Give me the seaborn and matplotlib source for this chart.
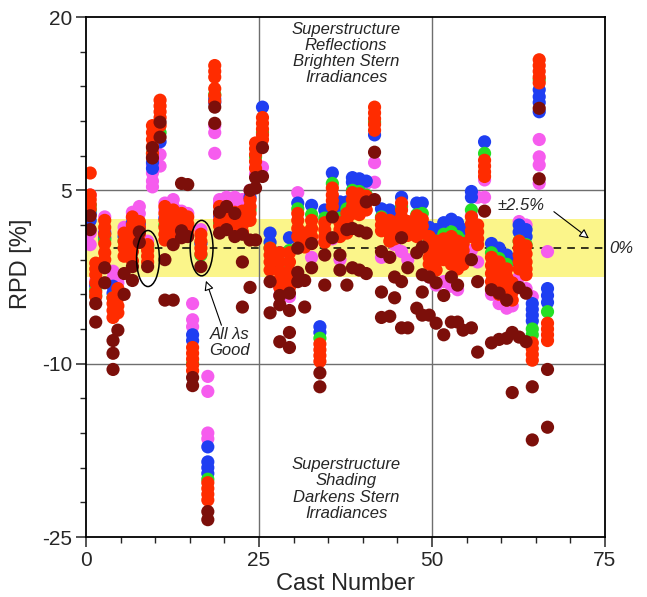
import pandas as pd
import seaborn as sns
import matplotlib.pyplot as plt
from matplotlib.patches import Ellipse
from matplotlib.ticker import MultipleLocator, FixedLocator

# cast positions
cast = [0.6, 1.4, 2.7, 3.9, 4.6, 5.5, 6.7, 7.7, 8.9, 9.6,
        10.7, 11.4, 12.6, 13.8, 14.7, 15.4, 16.6, 17.6, 18.6, 19.3,
        20.3, 21.5, 22.6, 23.7, 24.5, 25.5, 26.6, 28.0, 29.4, 30.6,
        31.6, 32.6, 33.8, 34.5, 35.6, 36.7, 37.7, 38.5, 39.5, 40.5,
        41.7, 42.7, 43.9, 44.6, 45.6, 46.5, 47.8, 48.6, 49.6, 50.6,
        51.7, 52.8, 53.7, 54.5, 55.7, 56.6, 57.6, 58.6, 59.7, 60.8,
        61.6, 62.6, 63.6, 64.5, 65.5, 66.7]

# RPD [%] per cast, one list per wavelength group
violet = [[4.6, 1.3, 0.3], [-2.8, -3.4], [2.7, 1.5], [-2.0, -2.6], [-3.0],
          [1.8, 1.4], [3.1, 2.6], [3.6, 3.0], [0.6], [7.9, 7.2, 6.5, 5.8, 5.3],
          [8.1, 7.1], [3.9, 3.3], [4.2, 3.6], [3.2], [3.0],
          [-4.8, -6.2, -6.8], [1.6], [-11.1, -12.4, -16.0, -16.5], [10.6, 10.0, 8.2], [4.2, 3.9],
          [4.4], [4.4, 4.0], [4.2], [5.0], [7.0, 6.4],
          [7.0], [], [-3.4, -4.1], [-4.2], [4.8],
          [0.5], [-0.8], [], [0.6], [0.8],
          [-1.0], [], [], [], [5.6],
          [7.4, 5.7], [-0.8], [], [0.3], [-0.3],
          [-1.0], [], [], [-2.5], [-3.2],
          [-2.9], [-3.3], [-3.6], [], [2.8, -0.2],
          [4.4, -1.2], [5.9, 4.4], [-4.0], [-4.8], [-5.2],
          [-5.0], [2.3, -2.5], [2.0, -3.5], [-4.2], [9.4, 7.9, 7.2, 5.6],
          [-0.3]]
blue = [[3.0, 2.4], [-3.2], [1.3, 0.9], [-3.3, -3.9], [-3.8],
        [1.0], [2.2], [2.1, 1.7], [0.2], [7.4, 6.9],
        [9.2], [2.6], [3.0], [2.0], [1.9],
        [-7.5, -8.0], [0.4], [-17.2, -18.5, -19.0, -19.5], [12.6, 12.9], [2.8],
        [3.0], [], [2.8], [4.4], [],
        [12.2], [1.3, 0.5], [-0.4], [0.9], [3.9],
        [], [3.7], [-6.8, -7.3], [3.3], [6.5],
        [4.0, 3.0], [4.0], [6.1, 5.7], [6.0, 5.6], [5.8],
        [9.8], [3.4], [3.3], [3.0], [4.4],
        [], [3.9], [3.9], [1.8], [1.6],
        [2.2], [2.5], [2.2], [1.6], [4.9, 4.4],
        [], [9.2], [0.4], [0.0], [-0.6],
        [-1.0], [2.0, 1.4], [1.6, 1.0], [-4.8, -5.3, -5.8, -6.3], [13.7, 13.1, 12.6, 11.8],
        [-3.5, -4.1, -4.7]]
green = [[3.7, 3.3], [-3.6, -4.1], [0.7], [-4.3], [],
         [0.6], [1.6], [1.4], [0.0], [8.2],
         [10.0], [2.0], [2.5], [1.5], [],
         [-10.0], [-0.6], [-20.0], [13.3], [2.2],
         [], [2.2], [], [3.3], [7.9],
         [10.0], [0.0], [-1.5], [-0.2], [3.4],
         [], [2.9], [-7.8], [2.6], [5.6],
         [2.6], [3.4], [5.0], [4.9], [4.6],
         [10.9], [2.7], [], [2.2], [3.6],
         [], [2.9], [3.0], [0.9], [0.6],
         [1.2], [1.4], [1.0], [0.6], [3.3],
         [], [8.2], [-0.4], [-0.9], [-1.4],
         [], [0.6], [0.3], [-7.0, -7.5], [14.6],
         [-5.5]]
red = [[6.5, 4.6, 4.2, 3.8, 3.4], [-1.3, -1.8, -2.3, -3.0, -3.8, -4.2],
       [2.4, 1.8, 1.2, 0.4, -0.4, -1.0], [-4.3, -4.8, -5.4, -6.0], [-3.5, -4.3, -5.0, -5.6],
       [1.3, 0.6, 0.0, -0.7], [2.7, 2.0, 1.3, 0.5, -0.3, -1.1], [2.3, 1.8, 1.2, 0.5],
       [0.3, -0.2, -0.7, -1.2], [10.6, 10.0, 9.4, 8.8, 8.2],
       [12.8, 12.3, 11.8, 11.3, 10.6], [3.6, 3.0, 2.4, 1.8, 1.2, 0.7], [3.3, 2.8, 2.2, 1.6, 1.0],
       [3.0, 2.4, 1.8, 1.2], [2.7, 2.1, 1.5],
       [-8.6, -9.1, -9.6, -10.1, -10.6], [1.2, 0.6, 0.0, -0.5], [-20.3, -20.8, -21.3, -21.8],
       [15.8, 15.3, 14.8, 13.8, 13.2, 12.7], [3.6, 3.0, 2.4, 1.9],
       [3.6, 3.0, 2.4, 1.8], [3.1, 2.5, 1.9, 1.4], [3.2, 2.6, 2.0, 1.4], [4.2, 3.6, 3.0, 2.4],
       [9.1, 8.6, 8.1, 7.5, 6.9],
       [11.3, 10.8, 10.3, 9.8, 9.4], [0.0, -0.6, -1.2, -1.9], [-0.4, -1.2, -2.0, -2.7, -3.4],
       [-0.4, -1.2, -2.0, -2.8, -3.4], [3.0, 2.4, 1.7, 1.0],
       [1.3, 0.7, 0.1], [2.4, 1.7, 1.0, 0.4], [-8.3, -8.8, -9.3, -9.8], [2.2, 1.6, 1.0, 0.5],
       [5.2, 4.6, 4.1, 3.6],
       [2.2, 1.6, 1.0], [3.0, 2.4, 1.8, 1.3], [4.8, 4.2, 3.6, 3.0], [4.7, 4.1, 3.5, 2.9],
       [4.5, 3.9, 3.3],
       [12.2, 11.7, 11.2, 10.7, 10.2], [2.6, 2.0, 1.5], [2.4, 1.8, 1.2, 0.6], [2.0, 1.4, 0.8],
       [3.9, 3.3, 2.7, 2.1, 1.5],
       [2.3, 1.7, 1.1], [2.8, 2.2, 1.6, 1.0], [2.5, 1.9, 1.3], [1.0, 0.4, -0.2, -0.8, -1.4],
       [0.6, 0.0, -0.6, -1.2, -1.9],
       [0.8, 0.2, -0.4, -1.0], [1.0, 0.4, -0.2, -0.8, -1.4], [0.6, 0.0, -0.6, -1.2, -1.8],
       [0.4, -0.2, -0.8, -1.4], [2.7, 2.1, 1.5, 1.0],
       [2.0, 1.4, 0.8, 0.3], [7.6, 7.1, 6.6, 6.2], [-0.8, -1.5, -2.2, -2.9, -3.5],
       [-1.2, -1.9, -2.6, -3.3, -4.0], [-1.8, -2.5, -3.2, -3.9, -4.5],
       [-3.0, -3.8, -4.5], [0.6, 0.0, -0.6, -1.2, -1.8], [0.2, -0.5, -1.2, -1.8, -2.3],
       [-8.2, -8.7, -9.2, -9.7], [16.3, 15.8, 15.3, 14.8, 14.3],
       [-6.5, -7.0, -7.5, -8.0]]
nir = [[2.8, 1.6], [-4.8, -6.4], [-1.7, -3.0], [-8.0, -9.1, -10.5], [-7.1],
       [-2.2, -4.0], [-1.6, -2.8], [1.4, 0.5], [-1.6], [8.7, 7.8],
       [10.9, 9.6], [-1.0, -4.5], [0.3, -4.5], [5.6, 1.5, 0.9], [5.5, 1.0],
       [-11.2, -11.9], [-1.6], [-22.8, -23.5], [12.2, 10.8], [3.1, 1.3],
       [3.6, 1.6], [3.0, 1.0], [1.2, -1.2, -5.1], [5.0, 0.7, -3.4], [6.1, 5.2, 0.7],
       [8.7, 6.2], [-2.9, -5.6], [-4.1, -4.9, -8.1], [-3.9, -5.4, -7.3, -8.6], [0.0, -2.1, -2.9],
       [-2.8, -5.1], [0.4, -1.7], [-10.8, -12.0], [-0.6, -3.2], [2.7, 0.9],
       [-0.6, -1.9], [1.6, -3.2], [1.7, -1.7], [1.5, -1.9], [4.0, 1.3, -2.2],
       [8.3, 4.2], [-0.3, -3.8, -6.0], [-0.8, -5.9], [-2.5, -4.3], [0.9, -2.9, -6.9],
       [-1.7, -6.9], [-0.4, -5.2], [0.1, -2.3, -3.8, -5.8], [-2.5, -5.8], [-3.0, -6.5],
       [-4.1, -7.5], [-2.5, -6.4], [-3.2, -6.4], [-7.1], [-1.0, -6.9],
       [-2.9, -9.0], [3.2], [-3.6, -8.2], [-3.9, -7.9], [-4.5, -7.8],
       [-7.3, -12.5], [-3.4, -7.7], [-3.9, -8.1], [-12.0, -16.6], [12.1, 6.0],
       [-10.5, -15.5]]

y_ticks = [-25, -10, 5, 20]
y_minor = list(range(-25, 21, 3))

groups = ['violet', 'blue', 'green', 'red', 'nir']
colors = {'violet': '#f65cee', 'blue': '#1f3ef2', 'green': '#25df25',
          'red': '#ff2c00', 'nir': '#7c0f0a'}

rows = []
for name, series in zip(groups, [violet, blue, green, red, nir]):
    for c, vals in zip(cast, series):
        for v in vals:
            rows.append({'cast': c, 'rpd': v, 'band': name})
df = pd.DataFrame(rows)

sns.set_theme(style='ticks')
plt.rcParams['font.family'] = ['Liberation Sans', 'DejaVu Sans']
plt.rcParams['axes.unicode_minus'] = False

fig = plt.figure(figsize=(6.47, 5.97), dpi=100)
ax = fig.add_axes([0.133, 0.1005, 0.802, 0.871])

# +-2.5% band and reference lines
ax.axhspan(-2.5, 2.5, color='#fbf58a', zorder=0, lw=0)
for gx in [25, 50]:
    ax.axvline(gx, color='#6e6e6e', lw=1, zorder=0.5)
for gy in [5, -10]:
    ax.axhline(gy, color='#6e6e6e', lw=1, zorder=0.5)
ax.axhline(0, color='black', lw=1.1, ls=(0, (5, 4)), zorder=0.6)

sns.scatterplot(data=df, x='cast', y='rpd', hue='band', palette=colors,
                s=90, linewidth=0, alpha=1, legend=False, ax=ax, zorder=2)

ax.set_xlim(0, 75)
ax.set_ylim(-25, 20)
ax.xaxis.set_major_locator(MultipleLocator(25))
ax.xaxis.set_minor_locator(MultipleLocator(5))
ax.yaxis.set_major_locator(FixedLocator(y_ticks))
ax.yaxis.set_minor_locator(FixedLocator(y_minor))
ax.tick_params(which='major', direction='out', length=7, width=1.1, labelsize=15, pad=3)
ax.tick_params(which='minor', direction='out', length=4, width=1.0)
for sp in ax.spines.values():
    sp.set_linewidth(1.3)
    sp.set_color('black')

ax.set_xlabel('Cast Number', fontsize=17, labelpad=2)
ax.set_ylabel('RPD [%]', fontsize=17, labelpad=6)
ax.yaxis.set_label_coords(-0.105, 0.525)

txt = dict(fontsize=12, style='italic', ha='center', va='top', linespacing=1.1)
ax.text(37.6, 19.6, 'Superstructure\nReflections\nBrighten Stern\nIrradiances', **txt)
ax.text(37.6, -18.1, 'Superstructure\nShading\nDarkens Stern\nIrradiances', **txt)

ax.add_patch(Ellipse((8.95, -0.9), 3.3, 4.85, fill=False, ec='black', lw=1.1, zorder=3))
ax.add_patch(Ellipse((16.7, 0.0), 3.3, 4.8, fill=False, ec='black', lw=1.1, zorder=3))

ax.annotate('', xy=(17.2, -2.6), xytext=(19.7, -6.9),
            arrowprops=dict(arrowstyle='-|>', fc='white', ec='black', lw=0.8,
                            mutation_scale=14))
ax.text(20.8, -8.2, 'All \u03bbs\nGood', fontsize=12, style='italic',
        ha='center', va='center', linespacing=1.1)

ax.annotate('', xy=(73.0, 0.7), xytext=(67.3, 3.3),
            arrowprops=dict(arrowstyle='-|>', fc='white', ec='black', lw=0.8,
                            mutation_scale=14))
ax.text(62.9, 3.7, '\u00b12.5%', fontsize=12, style='italic', ha='center', va='center')
ax.text(75.6, 0, '0%', fontsize=12, style='italic', ha='left', va='center')

fig.savefig('out.png', dpi=100)
